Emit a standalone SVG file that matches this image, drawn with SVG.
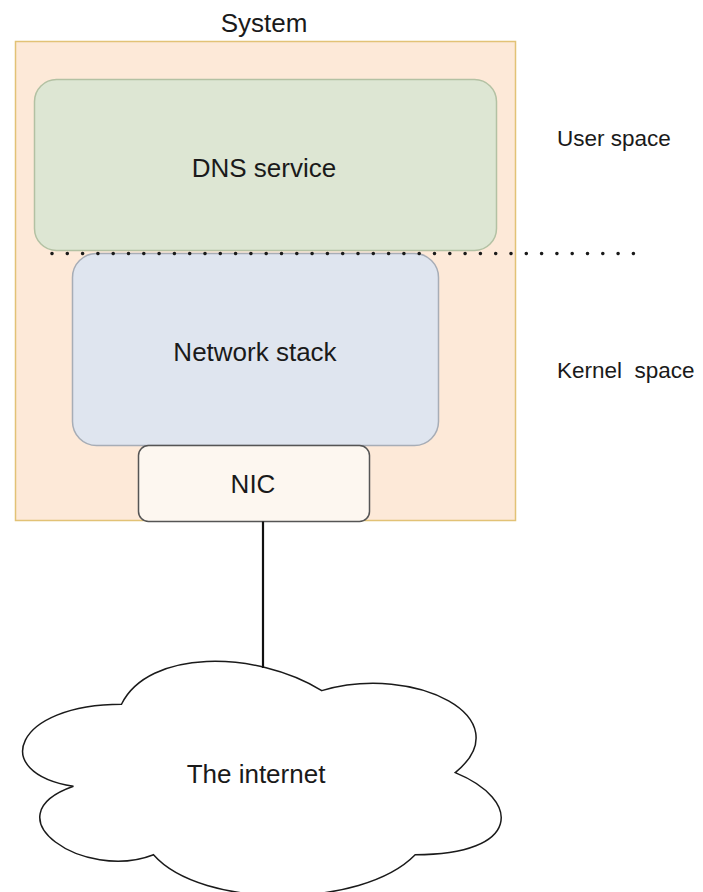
<svg xmlns="http://www.w3.org/2000/svg" width="703" height="892" viewBox="0 0 703 892">
<style>
text{font-family:"Liberation Sans",Arial,sans-serif;fill:#1a1a1a}
.main{font-size:26px}
.side{font-size:22.5px}
.mid{text-anchor:middle}
</style>
<rect width="703" height="892" fill="#ffffff"/>
<g id="system">
<rect x="15.5" y="41.5" width="500" height="479" fill="#fde9d8" stroke="#e2c276" stroke-width="1.5"/>
<text class="main mid" x="264" y="32">System</text>
</g>
<g id="dns-service">
<rect x="34.5" y="79.5" width="462" height="171" rx="22" ry="22" fill="#dde6d3" stroke="#b3c1a3" stroke-width="1.5"/>
<text class="main mid" x="264" y="177">DNS service</text>
</g>
<g id="network-stack">
<rect x="72.5" y="253.5" width="366" height="192" rx="24" ry="24" fill="#dfe5ef" stroke="#a7adb6" stroke-width="1.5"/>
<text class="main mid" x="255" y="361">Network stack</text>
</g>
<g id="nic">
<rect x="138.5" y="445.5" width="231" height="76" rx="10" ry="10" fill="#fdf7f0" stroke="#555555" stroke-width="1.5"/>
<text class="main mid" x="253" y="493">NIC</text>
</g>
<g id="internet">
<path d="M121.5,704.25 C14.7,704.25 -12,772.6 73.44,786.3 C-12,816.4 84.1,882 153.5,854.7 C201.6,909.3 361.8,909.3 415.2,854.7 C522,854.7 522,800 455.25,772.6 C522,718 415.2,663.3 321.75,690.6 C255,649.6 148.2,649.6 121.5,704.25 Z" fill="#ffffff" stroke="#1a1a1a" stroke-width="1.5"/>
<text class="main mid" x="256" y="783">The internet</text>
</g>
<g id="labels">
<text class="side" x="557" y="146">User space</text>
<text class="side" x="557" y="378" xml:space="preserve">Kernel  space</text>
</g>
<g id="connectors">
<line x1="52" y1="253.5" x2="640" y2="253.5" stroke="#1a1a1a" stroke-width="3.6" stroke-linecap="round" stroke-dasharray="0 15.3"/>
<line x1="263" y1="521.5" x2="263" y2="668" stroke="#111111" stroke-width="2.2"/>
</g>
</svg>
